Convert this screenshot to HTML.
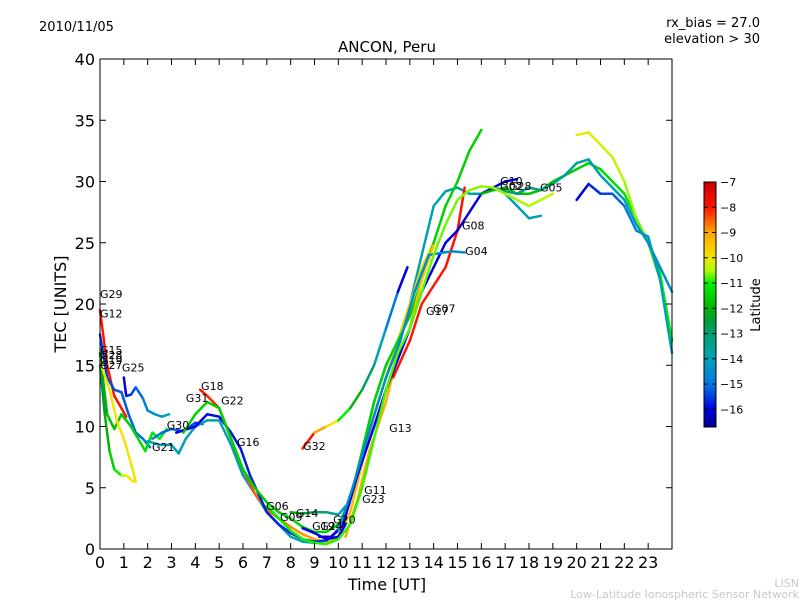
<!DOCTYPE html>
<html><head><meta charset="utf-8"><style>
body{margin:0;background:#fff;font-family:"Liberation Sans",sans-serif}
svg text{font-family:"DejaVu Sans","Liberation Sans",sans-serif}
</style></head><body>
<svg id="chart" width="800" height="600" viewBox="0 0 800 600">
<defs><linearGradient id="jet" x1="0" y1="1" x2="0" y2="0"></linearGradient></defs>
<text x="39" y="31" font-size="13">2010/11/05</text>
<text x="760" y="27" font-size="13" text-anchor="end">rx_bias = 27.0</text>
<text x="760" y="43" font-size="13" text-anchor="end">elevation &gt; 30</text>
<text x="387" y="52" font-size="15" text-anchor="middle">ANCON, Peru</text>
<text x="0" y="0" font-size="16" text-anchor="middle" transform="translate(66,304) rotate(-90)">TEC [UNITS]</text>
<text x="387" y="590" font-size="16" text-anchor="middle">Time [UT]</text>
<text x="799" y="587" font-size="11" fill="#c8c8c8" text-anchor="end">LISN</text>
<text x="799" y="598" font-size="11" fill="#c8c8c8" text-anchor="end">Low-Latitude Ionospheric Sensor Network</text>
<g id="plot"></g>
<rect x="100" y="59" width="572" height="490" fill="none" stroke="#000" stroke-width="1"/>
<rect x="704" y="182" width="12" height="245" fill="url(#jet)" stroke="#000" stroke-width="1"/>
<g id="cbar"></g>
<text x="0" y="0" font-size="13" text-anchor="middle" transform="translate(760,305) rotate(-90)">Latitude</text>
</svg>
<script>
const yTicks=[0,5,10,15,20,25,30,35,40];
const xTicks=[0,1,2,3,4,5,6,7,8,9,10,11,12,13,14,15,16,17,18,19,20,21,22,23];
const cbTicks=[-7,-8,-9,-10,-11,-12,-13,-14,-15,-16];
const latMin=-16.7, latMax=-7;
const seriesHours=[
[0,0.3,0.6,0.9,1.1],
[0,0.3,0.6,0.9,1.2,1.5,1.8,2.1],
[0,0.3,0.6,0.9,1.3,1.6,1.9,2.2,2.5,2.8],
[0,0.2,0.4,0.6,0.9,1.1,1.4],
[0,0.4,0.7,1,1.3,1.5],
[1,1.1,1.3,1.5,1.8,2,2.3,2.6,2.9],
[2.2,2.6,3,3.5,4,4.3],
[2,2.5,3,3.3,3.6,4,4.5,5,5.5,6,6.5,7,7.5,8,8.5,9,9.5,10,10.5,11,11.5,12,12.5,13,13.5,14,14.5,15,15.5,16,16.5,17,17.5,18,18.5],
[4.2,4.5,5,5.5,6,6.5,7,7.5,8,8.5,9,9.5,10,10.5,11,11.5,12,12.5,13,13.5,14],
[3.2,4,4.5,5,5.5,5.9,6.3,7,7.5,8,8.5,9,9.5,10],
[3.5,4,4.5,5,5.5,6,6.5,7,7.5,8,8.5,9,9.5,10,10.5,11,11.5,12,12.5,13,13.5,14,14.5,15,15.5,16],
[8.5,9,9.5,10,10.5,11,11.5,12,12.5,12.9],
[10.3,10.8,11.3,12,12.5,13,13.5,14],
[12.3,13,13.5,14.5,15,15.3],
[9.2,9.7,10.2,10.8,11.5,12,12.5,13,13.5,14,14.5,15,15.5,16,16.5,17,17.5],
[10,10.6,11.2,12,12.6,13.2,13.8,14.4,14.8,15.3],
[16,16.5,17,17.5,18,18.5,19,19.5,20,20.5,21,21.5,22,22.5,23,23.5,24],
[20,20.5,21,21.5,22,22.5,23,23.5,24],
[20,20.5,21,21.5,22,22.5,23,23.5,24],
[16.5,17,17.5,18,18.5,19,19.5,20,20.5,21,21.5,22,22.5,23,23.5,24],
[8,8.5,9,9.5,10,10.3],
[8.5,9,9.5,10,10.3],
[7,7.5,8,8.5,9,9.5,10,10.5,11,11.5,12,12.5,13,13.5,14,14.5,15,15.5,16,16.5,17,17.5,18,18.5,19]
];
const seriesTec=[
[19.5,15,12.5,11.5,10.8],
[17.5,14,13,12.8,11,9.5,9,8.3],
[16,11,9.8,11,10,9,8,9.5,9,9.8],
[15,11,8,6.5,6,6,5.5],
[15.3,13,10.5,9,7,5.5],
[14,12.5,12.6,13.2,12.3,11.3,11,10.8,11],
[9,9.5,9.8,9.6,10.3,10.2],
[8.8,8.5,8.5,7.8,9,10,10.5,10.5,8.5,6,4.5,3,2,1,0.6,0.5,0.7,1.5,4,8,12,15,17,20,24,28,29.2,29.5,29,29,29.5,29,28,27,27.2],
[13,12.5,11.5,9,6.5,4.5,3.2,2.5,1.8,1.2,0.8,0.6,1,3,7,11,14,17,20,23,25],
[9.5,10,11,10.8,9.5,8.2,6,3,2,1.3,0.8,0.6,0.7,1.5],
[9.5,11,12,11.5,9,6.5,5,3.8,3,2.5,1.8,1.4,1.4,2,4,8,12,15,17,19,22,25,28,30,32.5,34.2],
[8.2,9.5,10,10.5,11.5,13,15,18,21,23],
[1,4,8,12,16,18,22,24.8],
[14,17,20,23,26,29.5],
[1,1,2,6,10,13,15.5,18,21,23,25,26,27.5,29,29.5,30,30.2],
[1.5,5,9,14,17,21,24,24.2,24.3,24.2],
[29,29.3,29.5,29,29,29.3,30,30.5,31,31.5,31,30,29,27,25,22.5,17],
[33.8,34,33,32,30,27,25,22,17],
[28.5,29.8,29,29,28,26,25.5,22,16],
[29.5,29.2,29,29.5,29.3,29.8,30.5,31.5,31.8,30.5,29.5,28.5,26.5,25,23,21,18],
[3,2.9,3,3,2.8,3.5],
[1.7,1.3,0.8,1,2],
[3.5,2.5,1.5,0.8,0.5,0.4,0.8,2,5,9,13,16,18,21,24,26.5,28.5,29.3,29.6,29.5,29,28.5,28,28.5,29]
];
const seriesLatStart=[-8,-15.5,-12,-12.5,-10,-16,-15,-14,-8,-16,-11.5,-8,-9,-8,-16,-14.5,-12,-10,-16,-13,-12,-16,-11];
const seriesLatEnd=[-8,-15,-11,-10,-10,-14,-15.5,-14,-10,-15.5,-11.5,-16,-9.5,-8,-16,-14.5,-11,-11,-14,-14.5,-14,-16,-10.5];
const labelNames=["G29","G12","G15","G28","G19","G27","G25","G18","G31","G22","G30","G21","G16","G32","G13","G11","G23","G06","G09","G14","G20","G19","G24","G17","G07","G08","G04","G10","G02","G28","G05"];
const labelHours=[0,0,0,0,0,0,0.92,4.24,3.6,5.08,2.8,2.18,5.75,8.52,12.13,11.08,11.0,6.97,7.55,8.22,9.78,8.9,9.24,13.68,13.97,15.19,15.32,16.79,16.79,17.16,18.46];
const labelTec=[20.5,18.9,15.9,15.5,15.1,14.7,14.5,13.0,12.0,11.8,9.8,8.0,8.4,8.1,9.55,4.5,3.75,3.2,2.3,2.6,2.1,1.55,1.55,19.1,19.3,26.1,24.0,29.7,29.3,29.3,29.2];
const NS="http://www.w3.org/2000/svg";
const X=h=>100+h*572/24, Y=v=>549-v*490/40, CB=l=>182+(latMax-l)*245/(latMax-latMin);
const cmapLat=[-16.7,-16,-15,-14,-13,-12.5,-12,-11,-10.5,-10,-9,-8,-7];
const cmapRGB=[[0,0,140],[0,0,225],[0,120,225],[0,160,180],[0,160,110],[0,155,60],[0,180,0],[0,240,0],[180,250,0],[240,230,0],[255,165,0],[255,20,0],[200,0,0]];
function jet(l){l=Math.max(latMin,Math.min(latMax,l));
 for(let k=0;k<cmapLat.length-1;k++){if(l<=cmapLat[k+1]){const f=(l-cmapLat[k])/(cmapLat[k+1]-cmapLat[k]);
 const c=cmapRGB[k].map((v,m)=>Math.round(v+(cmapRGB[k+1][m]-v)*f));return `rgb(${c})`;}}
 return `rgb(${cmapRGB[cmapRGB.length-1]})`;}
function mk(tag,attrs,parent){const e=document.createElementNS(NS,tag);for(const k in attrs)e.setAttribute(k,attrs[k]);parent.appendChild(e);return e;}
const grad=document.getElementById('jet');
cmapLat.forEach((l,k)=>{mk('stop',{offset:(l-latMin)/(latMax-latMin),'stop-color':`rgb(${cmapRGB[k]})`},grad);});
const plot=document.getElementById('plot');
seriesHours.forEach((hs,i)=>{
  const g=mk('g',{},plot);
  
  
  const n=hs.length;
  for(let j=0;j<n-1;j++){
    const f=n>2?j/(n-2):0;
    const lat=seriesLatStart[i]+(seriesLatEnd[i]-seriesLatStart[i])*f;
    const s=mk('line',{x1:X(hs[j]),y1:Y(seriesTec[i][j]),x2:X(hs[j+1]),y2:Y(seriesTec[i][j+1]),stroke:jet(lat),'stroke-width':2.5,'stroke-linecap':'round'},g);
    
    
  }
});
labelNames.forEach((nm,i)=>{
  const t=mk('text',{x:X(labelHours[i]),y:Y(labelTec[i]),'font-size':11},plot);
  t.textContent=nm;
  
  
});
yTicks.forEach(v=>{
  mk('line',{x1:100,x2:106,y1:Y(v),y2:Y(v),stroke:'#000'},plot);
  mk('line',{x1:666,x2:672,y1:Y(v),y2:Y(v),stroke:'#000'},plot);
  const t=mk('text',{x:95,y:Y(v)+6,'font-size':16,'text-anchor':'end'},plot);
  t.textContent=v;
  
  
});
xTicks.forEach(v=>{
  mk('line',{x1:X(v),x2:X(v),y1:549,y2:543,stroke:'#000'},plot);
  mk('line',{x1:X(v),x2:X(v),y1:59,y2:65,stroke:'#000'},plot);
  const t=mk('text',{x:X(v),y:568,'font-size':16,'text-anchor':'middle'},plot);
  t.textContent=v;
  
  
});
const cb=document.getElementById('cbar');
cbTicks.forEach(v=>{
  mk('line',{x1:704,x2:708,y1:CB(v),y2:CB(v),stroke:'#000'},cb);
  mk('line',{x1:712,x2:716,y1:CB(v),y2:CB(v),stroke:'#000'},cb);
  const t=mk('text',{x:720,y:CB(v)+4,'font-size':11},cb);
  t.textContent='\u2212'+Math.abs(v);
  
  
});
</script>
</body></html>
